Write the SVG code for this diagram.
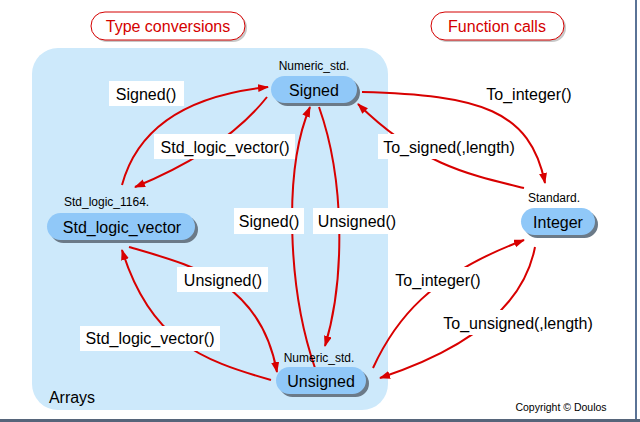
<svg xmlns="http://www.w3.org/2000/svg" width="640" height="422" viewBox="0 0 640 422">
<defs>
<style>
text{font-family:"Liberation Sans",Arial,sans-serif;fill:#000}
.big{font-size:16px;text-anchor:middle}
.small{font-size:12px}
.title{font-size:16px;text-anchor:middle;fill:#d40000}
.node{fill:#90c8f8}
.shadow{fill:#6b7a88}
.lblbox{fill:#ffffff}
.edge{fill:none;stroke:#d80000;stroke-width:2;marker-end:url(#arr)}
.pill{fill:#ffffff;stroke:#d40000;stroke-width:1}
</style>
<marker id="arr" markerWidth="12" markerHeight="10" refX="10" refY="4" orient="auto" markerUnits="userSpaceOnUse">
<path d="M0,0 L11,4 L0,8 Z" fill="#d80000"/>
</marker>
</defs>
<rect x="0" y="0" width="640" height="422" fill="#ffffff"/>
<rect x="635" y="0" width="2" height="422" fill="#5a7396"/>
<rect x="0" y="419" width="640" height="3" fill="#56657a"/>

<g id="titles">
<rect x="93" y="14" width="154" height="28" rx="14" fill="#c8c8c8"/>
<rect x="91" y="12" width="154" height="28" rx="14" class="pill"/>
<text class="title" x="168" y="32">Type conversions</text>
<rect x="433" y="14" width="133" height="28" rx="14" fill="#c8c8c8"/>
<rect x="431" y="12" width="133" height="28" rx="14" class="pill"/>
<text class="title" x="497" y="32">Function calls</text>
</g>

<g id="arrays-region">
<rect x="32" y="48" width="356" height="362" rx="26" fill="#cde9fb"/>
<text class="big" x="72" y="403">Arrays</text>
</g>

<g id="connectors">
<path class="edge" d="M122,185 Q145,100 268,87"/>
<path class="edge" d="M267,97 Q225,150 135,187"/>
<path class="edge" d="M362,92 C480,95 530,110 545,183"/>
<path class="edge" d="M524,188 C470,175 420,165 358,104"/>
<path class="edge" d="M315,368 C288,290 283,170 310,107"/>
<path class="edge" d="M319,107 C345,180 345,280 325,346"/>
<path class="edge" d="M129,247 C190,265 260,280 277,372"/>
<path class="edge" d="M271,380 C200,360 150,340 122,250"/>
<path class="edge" d="M373,368 C395,320 430,275 524,240"/>
<path class="edge" d="M535,247 C525,300 480,345 380,378"/>
</g>

<g id="edge-labels">
<rect class="lblbox" x="109" y="81" width="75" height="25"/>
<text class="big" x="146" y="100">Signed()</text>
<rect class="lblbox" x="154" y="134" width="141" height="25"/>
<text class="big" x="225" y="153">Std_logic_vector()</text>
<text class="big" x="529" y="100">To_integer()</text>
<rect class="lblbox" x="378" y="134" width="142" height="25"/>
<text class="big" x="449" y="153">To_signed(,length)</text>
<rect class="lblbox" x="234" y="208" width="70" height="26"/>
<text class="big" x="269" y="227">Signed()</text>
<rect class="lblbox" x="313" y="208" width="89" height="26"/>
<text class="big" x="357" y="227">Unsigned()</text>
<rect class="lblbox" x="177" y="267" width="91" height="25"/>
<text class="big" x="223" y="286">Unsigned()</text>
<rect class="lblbox" x="392" y="267" width="92" height="25"/>
<text class="big" x="438" y="286">To_integer()</text>
<rect class="lblbox" x="80" y="326" width="140" height="25"/>
<text class="big" x="150" y="344">Std_logic_vector()</text>
<rect class="lblbox" x="441" y="310" width="155" height="25"/>
<text class="big" x="518" y="329">To_unsigned(,length)</text>
</g>

<g id="node-signed">
<text class="small" x="314" y="70" text-anchor="middle">Numeric_std.</text>
<rect class="shadow" x="274" y="79" width="86" height="27" rx="13.5"/>
<rect class="node" x="271" y="76" width="86" height="27" rx="13.5"/>
<text class="big" x="314" y="96">Signed</text>
</g>

<g id="node-slv">
<text class="small" x="64" y="206">Std_logic_1164.</text>
<rect class="shadow" x="50" y="216" width="148" height="27" rx="13.5"/>
<rect class="node" x="47" y="213" width="148" height="27" rx="13.5"/>
<text class="big" x="122" y="233">Std_logic_vector</text>
</g>

<g id="node-integer">
<text class="small" x="554" y="202" text-anchor="middle">Standard.</text>
<rect class="shadow" x="524" y="211" width="74" height="27" rx="13.5"/>
<rect class="node" x="521" y="208" width="74" height="27" rx="13.5"/>
<text class="big" x="558" y="228">Integer</text>
</g>

<g id="node-unsigned">
<text class="small" x="319" y="362" text-anchor="middle">Numeric_std.</text>
<rect class="shadow" x="279" y="370" width="90" height="27" rx="13.5"/>
<rect class="node" x="276" y="367" width="90" height="27" rx="13.5"/>
<text class="big" x="321" y="387">Unsigned</text>
</g>

<g id="copyright">
<text x="561" y="411" font-size="10.5" text-anchor="middle">Copyright © Doulos</text>
</g>
</svg>
